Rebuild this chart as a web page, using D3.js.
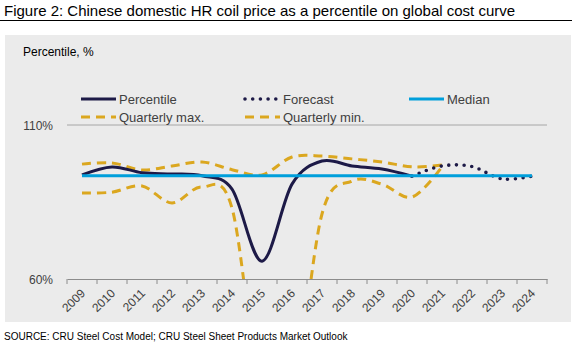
<!DOCTYPE html>
<html lang="en">
<head>
<meta charset="UTF-8">
<title>Chinese domestic HR coil price percentile</title>
<style>
  body { margin: 0; background: #fff; }
  text { font-family: "Liberation Sans", Arial, sans-serif; }
  .tick text { fill: #404040; font-size: 12px; }
</style>
</head>
<body>
<svg width="572" height="346"></svg>
<script src="https://d3js.org/d3.v7.min.js"></script>
<script>
// chart data
var years = ["2009","2010","2011","2012","2013","2014","2015","2016","2017","2018","2019","2020","2021","2022","2023","2024"];
var percentile = [93.8, 96.4, 94.5, 94.1, 93.5, 89.2, 65.8, 90.8, 98.3, 96.7, 95.7, 93.4];
var forecastYears = ["2020","2021","2022","2023","2024"];
var forecast = [93.4, 96.7, 96.5, 92.5, 93.4];
var median = [93.5, 93.5, 93.5, 93.5, 93.5, 93.5, 93.5, 93.5, 93.5, 93.5, 93.5, 93.5, 93.5, 93.5, 93.5, 93.5];
var qMax = [97.3, 97.7, 95.4, 96.7, 98.0, 95.5, 93.8, 99.6, 99.9, 99.0, 98.0, 96.4, 97.0];
var qMin = [87.9, 88.2, 90.2, 84.7, 89.9, 83.0, 20, 20, 81.1, 91.8, 90.8, 86.6, 96.4];
var yTicks = [60, 110];

var svg = d3.select("svg");
var navy = "#1d1a47", gold = "#dba71f", blue = "#009fdb";

svg.append("text").attr("x", 4).attr("y", 16)
    .style("font-size", "15px").attr("fill", "#000")
    .text("Figure 2: Chinese domestic HR coil price as a percentile on global cost curve");
svg.append("line").attr("x1", 0).attr("x2", 572).attr("y1", 20.5).attr("y2", 20.5)
    .attr("stroke", "#000").attr("stroke-width", 1);

svg.append("rect").attr("x", 5).attr("y", 35).attr("width", 566).attr("height", 287)
    .attr("fill", "#ebebeb");

svg.append("text").attr("x", 4).attr("y", 340)
    .style("font-size", "10px").attr("fill", "#000")
    .text("SOURCE: CRU Steel Cost Model; CRU Steel Sheet Products Market Outlook");

svg.append("text").attr("x", 23).attr("y", 56)
    .style("font-size", "12px").attr("fill", "#000")
    .text("Percentile, %");

var x = d3.scaleBand().domain(years).range([67, 547]);
var y = d3.scaleLinear().domain([60, 110]).range([279, 125]);
var cx = function(yr) { return x(yr) + x.bandwidth() / 2; };

// gridline at top
svg.append("line").attr("x1", 67).attr("x2", 547)
    .attr("y1", y(110)).attr("y2", y(110))
    .attr("stroke", "#a6a6a6").attr("stroke-width", 1);

// y labels
svg.append("g").selectAll("text").data(yTicks).enter().append("text")
    .attr("x", 53).attr("y", function(d) { return y(d) + 4.5; })
    .attr("text-anchor", "end").attr("fill", "#404040")
    .style("font-size", "12px")
    .text(function(d) { return d + "%"; });

// x axis
var xAxis = svg.append("g").attr("transform", "translate(0," + y(60) + ")")
    .call(d3.axisBottom(x).tickSize(0).tickSizeOuter(0));
xAxis.select(".domain").attr("stroke", "#8c8c8c");
xAxis.selectAll(".tick text")
    .attr("text-anchor", "end")
    .attr("transform", "translate(1,12) rotate(-45)")
    .attr("dy", "0.35em").attr("y", 0).attr("x", 0);
// tick marks on band edges
svg.append("g").selectAll("line").data(years.concat(["end"])).enter().append("line")
    .attr("x1", function(d, i) { return 67 + i * x.bandwidth(); })
    .attr("x2", function(d, i) { return 67 + i * x.bandwidth(); })
    .attr("y1", y(60)).attr("y2", y(60) + 5)
    .attr("stroke", "#8c8c8c");

svg.append("clipPath").attr("id", "plot").append("rect")
    .attr("x", 60).attr("y", 40).attr("width", 500).attr("height", y(60) - 40);

var line = d3.line().curve(d3.curveCardinal.tension(0))
    .x(function(d) { return cx(d[0]); })
    .y(function(d) { return y(d[1]); });
var pair = function(vals, yrs) { return vals.map(function(v, i) { return [yrs[i], v]; }); };

var plot = svg.append("g").attr("clip-path", "url(#plot)");

plot.append("path").datum(pair(qMin, years))
    .attr("d", line).attr("fill", "none").attr("stroke", gold)
    .attr("stroke-width", 3).attr("stroke-dasharray", "9,6");
plot.append("path").datum(pair(qMax, years))
    .attr("d", line).attr("fill", "none").attr("stroke", gold)
    .attr("stroke-width", 3).attr("stroke-dasharray", "9,6");
plot.append("path").datum(pair(percentile, years))
    .attr("d", line).attr("fill", "none").attr("stroke", navy)
    .attr("stroke-width", 3);
plot.append("path").datum(pair(forecast, forecastYears))
    .attr("d", line).attr("fill", "none").attr("stroke", navy)
    .attr("stroke-width", 3.6).attr("stroke-linecap", "round")
    .attr("stroke-dasharray", "0,7.7");
plot.append("path").datum(pair(median, years))
    .attr("d", d3.line().x(function(d) { return cx(d[0]); }).y(function(d) { return y(d[1]); }))
    .attr("fill", "none").attr("stroke", blue).attr("stroke-width", 3);

// legend
var legend = [
  {name: "Percentile", x: 81, y: 99, color: navy, dash: null},
  {name: "Forecast", x: 245, y: 99, color: navy, dash: "0,7.7"},
  {name: "Median", x: 409, y: 99, color: blue, dash: null},
  {name: "Quarterly max.", x: 81, y: 117, color: gold, dash: "9,6"},
  {name: "Quarterly min.", x: 245, y: 117, color: gold, dash: "9,6"}
];
var lg = svg.append("g").selectAll("g").data(legend).enter().append("g");
lg.append("line")
    .attr("x1", function(d) { return d.x; })
    .attr("x2", function(d) { return d.x + 35; })
    .attr("y1", function(d) { return d.y; }).attr("y2", function(d) { return d.y; })
    .attr("stroke", function(d) { return d.color; })
    .attr("stroke-width", function(d) { return d.dash === "0,7.7" ? 3.6 : 3; })
    .attr("stroke-linecap", function(d) { return d.dash === "0,7.7" ? "round" : "butt"; })
    .attr("stroke-dasharray", function(d) { return d.dash; });
lg.append("text")
    .attr("x", function(d) { return d.x + 38; })
    .attr("y", function(d) { return d.y + 5; })
    .attr("fill", "#404040").style("font-size", "13px")
    .text(function(d) { return d.name; });
</script>
</body>
</html>
